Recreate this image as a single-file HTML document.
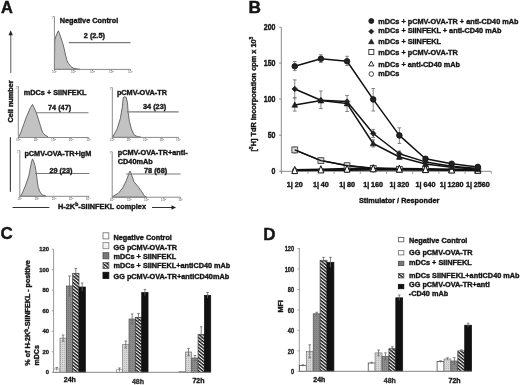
<!DOCTYPE html>
<html><head><meta charset="utf-8"><style>
html,body{margin:0;padding:0;background:#fff;}
svg{display:block;filter:grayscale(1);}
text{font-family:"Liberation Sans", sans-serif;}
</style></head><body>
<svg width="520" height="385" viewBox="0 0 520 385" font-family="Liberation Sans, sans-serif">
<rect width="520" height="385" fill="#fff"/>
<text x="0.9" y="12.9" font-size="16.4" font-weight="bold" text-anchor="start" fill="#161616" stroke="#111" stroke-width="0.45">A</text>
<line x1="10.7" y1="34" x2="10.7" y2="73" stroke="#8a8a8a" stroke-width="1.4"/>
<polygon points="10.7,30.3 8.5,35.3 12.9,35.3" fill="#222"/>
<text x="12.6" y="122.5" font-size="7.3" font-weight="bold" text-anchor="start" fill="#161616" transform="rotate(-90 12.6 122.5)"  stroke="#161616" stroke-width="0.38">Cell number</text>
<line x1="10.4" y1="137.3" x2="10.4" y2="191.8" stroke="#444" stroke-width="1.2"/>
<line x1="12.5" y1="207.5" x2="49.4" y2="207.5" stroke="#333" stroke-width="1.0"/>
<text x="58" y="208.6" font-size="7.3" font-weight="bold" fill="#161616" stroke="#161616" stroke-width="0.38" textLength="88" lengthAdjust="spacingAndGlyphs">H-2K<tspan font-size="5" dy="-2.5">b</tspan><tspan dy="2.5">-SIINFEKL complex</tspan></text>
<line x1="152" y1="207.5" x2="172.5" y2="207.5" stroke="#333" stroke-width="1.0"/>
<polygon points="176,207.5 171.5,205.3 171.5,209.7" fill="#222"/>
<line x1="54.4" y1="69.4" x2="54.4" y2="70.9" stroke="#888" stroke-width="0.8"/>
<text x="54.4" y="73.30000000000001" font-size="3.2" fill="#555" text-anchor="middle" font-family="Liberation Sans, sans-serif">10<tspan font-size="2.2" dy="-1">0</tspan></text>
<line x1="73.4" y1="69.4" x2="73.4" y2="70.9" stroke="#888" stroke-width="0.8"/>
<text x="73.4" y="73.30000000000001" font-size="3.2" fill="#555" text-anchor="middle" font-family="Liberation Sans, sans-serif">10<tspan font-size="2.2" dy="-1">1</tspan></text>
<line x1="92.4" y1="69.4" x2="92.4" y2="70.9" stroke="#888" stroke-width="0.8"/>
<text x="92.4" y="73.30000000000001" font-size="3.2" fill="#555" text-anchor="middle" font-family="Liberation Sans, sans-serif">10<tspan font-size="2.2" dy="-1">2</tspan></text>
<line x1="111.4" y1="69.4" x2="111.4" y2="70.9" stroke="#888" stroke-width="0.8"/>
<text x="111.4" y="73.30000000000001" font-size="3.2" fill="#555" text-anchor="middle" font-family="Liberation Sans, sans-serif">10<tspan font-size="2.2" dy="-1">3</tspan></text>
<line x1="130.4" y1="69.4" x2="130.4" y2="70.9" stroke="#888" stroke-width="0.8"/>
<text x="130.4" y="73.30000000000001" font-size="3.2" fill="#555" text-anchor="middle" font-family="Liberation Sans, sans-serif">10<tspan font-size="2.2" dy="-1">4</tspan></text>
<text x="52.199999999999996" y="19.0" font-size="3" fill="#999" text-anchor="middle" font-family="Liberation Sans, sans-serif">1</text>
<polygon points="54.4,69.4 54.8,40 56,36 57.3,33 58.4,30.8 59.5,33.5 61,38 62.5,42.5 64,48 65.5,55 67,60.5 68.5,63.5 70.5,66 73,68 77,69 80,69.3 80,69.4" fill="#c2c2c2" stroke="#555" stroke-width="0.85" stroke-linejoin="round"/>
<line x1="54.4" y1="16.5" x2="54.4" y2="69.4" stroke="#8a8a8a" stroke-width="1"/>
<line x1="52.9" y1="16.5" x2="54.4" y2="16.5" stroke="#8a8a8a" stroke-width="0.8"/>
<line x1="54.4" y1="69.4" x2="130.5" y2="69.4" stroke="#8a8a8a" stroke-width="1"/>
<line x1="68.8" y1="42.6" x2="130.5" y2="42.6" stroke="#7a7a7a" stroke-width="1.1"/>
<text x="59.8" y="22.8" font-size="7.3" font-weight="bold" text-anchor="start" fill="#161616"  stroke="#161616" stroke-width="0.38">Negative Control</text>
<text x="83.8" y="38.2" font-size="7.3" font-weight="bold" text-anchor="start" fill="#161616"  stroke="#161616" stroke-width="0.38">2 (2.5)</text>
<line x1="18.3" y1="137.5" x2="18.3" y2="139.0" stroke="#888" stroke-width="0.8"/>
<text x="18.3" y="141.4" font-size="3.2" fill="#555" text-anchor="middle" font-family="Liberation Sans, sans-serif">10<tspan font-size="2.2" dy="-1">0</tspan></text>
<line x1="35.9" y1="137.5" x2="35.9" y2="139.0" stroke="#888" stroke-width="0.8"/>
<text x="35.9" y="141.4" font-size="3.2" fill="#555" text-anchor="middle" font-family="Liberation Sans, sans-serif">10<tspan font-size="2.2" dy="-1">1</tspan></text>
<line x1="53.5" y1="137.5" x2="53.5" y2="139.0" stroke="#888" stroke-width="0.8"/>
<text x="53.5" y="141.4" font-size="3.2" fill="#555" text-anchor="middle" font-family="Liberation Sans, sans-serif">10<tspan font-size="2.2" dy="-1">2</tspan></text>
<line x1="71.1" y1="137.5" x2="71.1" y2="139.0" stroke="#888" stroke-width="0.8"/>
<text x="71.1" y="141.4" font-size="3.2" fill="#555" text-anchor="middle" font-family="Liberation Sans, sans-serif">10<tspan font-size="2.2" dy="-1">3</tspan></text>
<line x1="88.7" y1="137.5" x2="88.7" y2="139.0" stroke="#888" stroke-width="0.8"/>
<text x="88.7" y="141.4" font-size="3.2" fill="#555" text-anchor="middle" font-family="Liberation Sans, sans-serif">10<tspan font-size="2.2" dy="-1">4</tspan></text>
<text x="16.1" y="89.0" font-size="3" fill="#999" text-anchor="middle" font-family="Liberation Sans, sans-serif">1</text>
<polygon points="18.3,137.5 19,136.5 21,132 23.5,125 26,118 28.5,112 30.5,107.5 32.5,104.4 34,107.5 36,112 38,118 40,124.5 41.7,130 43,133 45,135 48,136.8 48,137.5" fill="#c2c2c2" stroke="#555" stroke-width="0.85" stroke-linejoin="round"/>
<line x1="18.3" y1="86.5" x2="18.3" y2="137.5" stroke="#8a8a8a" stroke-width="1"/>
<line x1="16.8" y1="86.5" x2="18.3" y2="86.5" stroke="#8a8a8a" stroke-width="0.8"/>
<line x1="18.3" y1="137.5" x2="88.5" y2="137.5" stroke="#8a8a8a" stroke-width="1"/>
<line x1="36" y1="112.8" x2="88.5" y2="112.8" stroke="#7a7a7a" stroke-width="1.1"/>
<text x="23.8" y="94.8" font-size="7.3" font-weight="bold" text-anchor="start" fill="#161616"  stroke="#161616" stroke-width="0.38">mDCs + SIINFEKL</text>
<text x="48" y="110.2" font-size="7.3" font-weight="bold" text-anchor="start" fill="#161616"  stroke="#161616" stroke-width="0.38">74 (47)</text>
<line x1="19.8" y1="196.3" x2="19.8" y2="197.8" stroke="#888" stroke-width="0.8"/>
<text x="19.8" y="200.20000000000002" font-size="3.2" fill="#555" text-anchor="middle" font-family="Liberation Sans, sans-serif">10<tspan font-size="2.2" dy="-1">0</tspan></text>
<line x1="36.9" y1="196.3" x2="36.9" y2="197.8" stroke="#888" stroke-width="0.8"/>
<text x="36.9" y="200.20000000000002" font-size="3.2" fill="#555" text-anchor="middle" font-family="Liberation Sans, sans-serif">10<tspan font-size="2.2" dy="-1">1</tspan></text>
<line x1="54" y1="196.3" x2="54" y2="197.8" stroke="#888" stroke-width="0.8"/>
<text x="54" y="200.20000000000002" font-size="3.2" fill="#555" text-anchor="middle" font-family="Liberation Sans, sans-serif">10<tspan font-size="2.2" dy="-1">2</tspan></text>
<line x1="71.1" y1="196.3" x2="71.1" y2="197.8" stroke="#888" stroke-width="0.8"/>
<text x="71.1" y="200.20000000000002" font-size="3.2" fill="#555" text-anchor="middle" font-family="Liberation Sans, sans-serif">10<tspan font-size="2.2" dy="-1">3</tspan></text>
<line x1="88.2" y1="196.3" x2="88.2" y2="197.8" stroke="#888" stroke-width="0.8"/>
<text x="88.2" y="200.20000000000002" font-size="3.2" fill="#555" text-anchor="middle" font-family="Liberation Sans, sans-serif">10<tspan font-size="2.2" dy="-1">4</tspan></text>
<text x="17.6" y="153.1" font-size="3" fill="#999" text-anchor="middle" font-family="Liberation Sans, sans-serif">1</text>
<polygon points="19.8,196.3 21.2,195.6 23,191.5 24.5,188 26,184 27.5,180 29,175 30.3,168 31.5,162 32.5,158.9 33.5,161 35,165.7 36,171 36.8,177 37.5,183 38.3,187.5 40,192 42.4,195 46,196 46,196.3" fill="#c2c2c2" stroke="#555" stroke-width="0.85" stroke-linejoin="round"/>
<line x1="19.8" y1="150.6" x2="19.8" y2="196.3" stroke="#8a8a8a" stroke-width="1"/>
<line x1="18.3" y1="150.6" x2="19.8" y2="150.6" stroke="#8a8a8a" stroke-width="0.8"/>
<line x1="19.8" y1="196.3" x2="89.4" y2="196.3" stroke="#8a8a8a" stroke-width="1"/>
<line x1="35" y1="173.5" x2="89.4" y2="173.5" stroke="#7a7a7a" stroke-width="1.1"/>
<text x="24.4" y="156.3" font-size="7.3" font-weight="bold" text-anchor="start" fill="#161616"  stroke="#161616" stroke-width="0.38">pCMV-OVA-TR+IgM</text>
<text x="49.4" y="172.8" font-size="7.3" font-weight="bold" text-anchor="start" fill="#161616"  stroke="#161616" stroke-width="0.38">29 (23)</text>
<line x1="112.3" y1="137.4" x2="112.3" y2="138.9" stroke="#888" stroke-width="0.8"/>
<text x="112.3" y="141.3" font-size="3.2" fill="#555" text-anchor="middle" font-family="Liberation Sans, sans-serif">10<tspan font-size="2.2" dy="-1">0</tspan></text>
<line x1="128.8" y1="137.4" x2="128.8" y2="138.9" stroke="#888" stroke-width="0.8"/>
<text x="128.8" y="141.3" font-size="3.2" fill="#555" text-anchor="middle" font-family="Liberation Sans, sans-serif">10<tspan font-size="2.2" dy="-1">1</tspan></text>
<line x1="145.3" y1="137.4" x2="145.3" y2="138.9" stroke="#888" stroke-width="0.8"/>
<text x="145.3" y="141.3" font-size="3.2" fill="#555" text-anchor="middle" font-family="Liberation Sans, sans-serif">10<tspan font-size="2.2" dy="-1">2</tspan></text>
<line x1="161.8" y1="137.4" x2="161.8" y2="138.9" stroke="#888" stroke-width="0.8"/>
<text x="161.8" y="141.3" font-size="3.2" fill="#555" text-anchor="middle" font-family="Liberation Sans, sans-serif">10<tspan font-size="2.2" dy="-1">3</tspan></text>
<line x1="178.3" y1="137.4" x2="178.3" y2="138.9" stroke="#888" stroke-width="0.8"/>
<text x="178.3" y="141.3" font-size="3.2" fill="#555" text-anchor="middle" font-family="Liberation Sans, sans-serif">10<tspan font-size="2.2" dy="-1">4</tspan></text>
<text x="110.1" y="90.1" font-size="3" fill="#999" text-anchor="middle" font-family="Liberation Sans, sans-serif">1</text>
<polygon points="112.3,137.4 113.2,136.1 117.1,129 120.3,118.6 122.3,106.9 123.3,97.3 124.7,96.8 126.2,97.3 127.5,103 128.1,112 129.4,121.2 131.4,129 134,134.8 137.2,136.5 141,137.2 141,137.4" fill="#c2c2c2" stroke="#555" stroke-width="0.85" stroke-linejoin="round"/>
<line x1="112.3" y1="87.6" x2="112.3" y2="137.4" stroke="#8a8a8a" stroke-width="1"/>
<line x1="110.8" y1="87.6" x2="112.3" y2="87.6" stroke="#8a8a8a" stroke-width="0.8"/>
<line x1="112.3" y1="137.4" x2="178.6" y2="137.4" stroke="#8a8a8a" stroke-width="1"/>
<line x1="126.9" y1="111.9" x2="178.6" y2="111.9" stroke="#7a7a7a" stroke-width="1.1"/>
<text x="116.9" y="95.3" font-size="7.3" font-weight="bold" text-anchor="start" fill="#161616"  stroke="#161616" stroke-width="0.38">pCMV-OVA-TR</text>
<text x="143" y="108.6" font-size="7.3" font-weight="bold" text-anchor="start" fill="#161616"  stroke="#161616" stroke-width="0.38">34 (23)</text>
<line x1="112.2" y1="197.2" x2="112.2" y2="198.7" stroke="#888" stroke-width="0.8"/>
<text x="112.2" y="201.1" font-size="3.2" fill="#555" text-anchor="middle" font-family="Liberation Sans, sans-serif">10<tspan font-size="2.2" dy="-1">0</tspan></text>
<line x1="129.3" y1="197.2" x2="129.3" y2="198.7" stroke="#888" stroke-width="0.8"/>
<text x="129.3" y="201.1" font-size="3.2" fill="#555" text-anchor="middle" font-family="Liberation Sans, sans-serif">10<tspan font-size="2.2" dy="-1">1</tspan></text>
<line x1="146.4" y1="197.2" x2="146.4" y2="198.7" stroke="#888" stroke-width="0.8"/>
<text x="146.4" y="201.1" font-size="3.2" fill="#555" text-anchor="middle" font-family="Liberation Sans, sans-serif">10<tspan font-size="2.2" dy="-1">2</tspan></text>
<line x1="163.5" y1="197.2" x2="163.5" y2="198.7" stroke="#888" stroke-width="0.8"/>
<text x="163.5" y="201.1" font-size="3.2" fill="#555" text-anchor="middle" font-family="Liberation Sans, sans-serif">10<tspan font-size="2.2" dy="-1">3</tspan></text>
<line x1="180.6" y1="197.2" x2="180.6" y2="198.7" stroke="#888" stroke-width="0.8"/>
<text x="180.6" y="201.1" font-size="3.2" fill="#555" text-anchor="middle" font-family="Liberation Sans, sans-serif">10<tspan font-size="2.2" dy="-1">4</tspan></text>
<text x="110.0" y="154.2" font-size="3" fill="#999" text-anchor="middle" font-family="Liberation Sans, sans-serif">1</text>
<polygon points="112.2,197.2 112.7,196.4 118.4,193.3 122.6,188 126.2,180.8 129.3,172.5 130,171 130.8,172.5 134,181.8 138.1,186.5 141.3,191.2 144.4,195.9 146.5,197 146.5,197.2" fill="#c2c2c2" stroke="#555" stroke-width="0.85" stroke-linejoin="round"/>
<line x1="112.2" y1="151.7" x2="112.2" y2="197.2" stroke="#8a8a8a" stroke-width="1"/>
<line x1="110.7" y1="151.7" x2="112.2" y2="151.7" stroke="#8a8a8a" stroke-width="0.8"/>
<line x1="112.2" y1="197.2" x2="180.6" y2="197.2" stroke="#8a8a8a" stroke-width="1"/>
<line x1="126" y1="174" x2="180.6" y2="174" stroke="#7a7a7a" stroke-width="1.1"/>
<text x="117.8" y="155.4" font-size="7.3" font-weight="bold" text-anchor="start" fill="#161616"  stroke="#161616" stroke-width="0.38">pCMV-OVA-TR+anti-</text>
<text x="117.8" y="163.8" font-size="7.3" font-weight="bold" text-anchor="start" fill="#161616"  stroke="#161616" stroke-width="0.38">CD40mAb</text>
<text x="144" y="172.9" font-size="7.3" font-weight="bold" text-anchor="start" fill="#161616"  stroke="#161616" stroke-width="0.38">78 (68)</text>
<text x="248.6" y="13.3" font-size="17.2" font-weight="bold" text-anchor="start" fill="#161616" stroke="#111" stroke-width="0.45">B</text>
<line x1="281.3" y1="27.3" x2="281.3" y2="173.5" stroke="#8a8a8a" stroke-width="1"/>
<line x1="279.0" y1="27.3" x2="281.3" y2="27.3" stroke="#8a8a8a" stroke-width="0.9"/>
<text x="275.5" y="30.3" font-size="8.4" font-weight="bold" text-anchor="end" fill="#161616"  textLength="11.790000000000001" lengthAdjust="spacingAndGlyphs" stroke="#161616" stroke-width="0.38">200</text>
<line x1="279.0" y1="63.1" x2="281.3" y2="63.1" stroke="#8a8a8a" stroke-width="0.9"/>
<text x="275.5" y="66.1" font-size="8.4" font-weight="bold" text-anchor="end" fill="#161616"  textLength="11.790000000000001" lengthAdjust="spacingAndGlyphs" stroke="#161616" stroke-width="0.38">150</text>
<line x1="279.0" y1="99.0" x2="281.3" y2="99.0" stroke="#8a8a8a" stroke-width="0.9"/>
<text x="275.5" y="102.0" font-size="8.4" font-weight="bold" text-anchor="end" fill="#161616"  textLength="11.790000000000001" lengthAdjust="spacingAndGlyphs" stroke="#161616" stroke-width="0.38">100</text>
<line x1="279.0" y1="135.2" x2="281.3" y2="135.2" stroke="#8a8a8a" stroke-width="0.9"/>
<text x="275.5" y="138.2" font-size="8.4" font-weight="bold" text-anchor="end" fill="#161616"  textLength="7.86" lengthAdjust="spacingAndGlyphs" stroke="#161616" stroke-width="0.38">50</text>
<line x1="279.0" y1="171.3" x2="281.3" y2="171.3" stroke="#8a8a8a" stroke-width="0.9"/>
<text x="275.5" y="174.3" font-size="8.4" font-weight="bold" text-anchor="end" fill="#161616"  textLength="3.93" lengthAdjust="spacingAndGlyphs" stroke="#161616" stroke-width="0.38">0</text>
<line x1="280.3" y1="171.3" x2="491.3" y2="171.3" stroke="#8a8a8a" stroke-width="1"/>
<line x1="281.7" y1="171.3" x2="281.7" y2="173.8" stroke="#8a8a8a" stroke-width="0.9"/>
<line x1="307.9" y1="171.3" x2="307.9" y2="173.8" stroke="#8a8a8a" stroke-width="0.9"/>
<line x1="334.09999999999997" y1="171.3" x2="334.09999999999997" y2="173.8" stroke="#8a8a8a" stroke-width="0.9"/>
<line x1="360.29999999999995" y1="171.3" x2="360.29999999999995" y2="173.8" stroke="#8a8a8a" stroke-width="0.9"/>
<line x1="386.5" y1="171.3" x2="386.5" y2="173.8" stroke="#8a8a8a" stroke-width="0.9"/>
<line x1="412.7" y1="171.3" x2="412.7" y2="173.8" stroke="#8a8a8a" stroke-width="0.9"/>
<line x1="438.9" y1="171.3" x2="438.9" y2="173.8" stroke="#8a8a8a" stroke-width="0.9"/>
<line x1="465.1" y1="171.3" x2="465.1" y2="173.8" stroke="#8a8a8a" stroke-width="0.9"/>
<line x1="491.29999999999995" y1="171.3" x2="491.29999999999995" y2="173.8" stroke="#8a8a8a" stroke-width="0.9"/>
<text x="294.75" y="186.8" font-size="7.2" font-weight="bold" text-anchor="middle" fill="#161616" stroke="#161616" stroke-width="0.38">1|<tspan dx="1.8">20</tspan></text>
<text x="320.9" y="186.8" font-size="7.2" font-weight="bold" text-anchor="middle" fill="#161616" stroke="#161616" stroke-width="0.38">1|<tspan dx="1.8">40</tspan></text>
<text x="347.05" y="186.8" font-size="7.2" font-weight="bold" text-anchor="middle" fill="#161616" stroke="#161616" stroke-width="0.38">1|<tspan dx="1.8">80</tspan></text>
<text x="373.2" y="186.8" font-size="7.2" font-weight="bold" text-anchor="middle" fill="#161616" stroke="#161616" stroke-width="0.38">1|<tspan dx="1.8">160</tspan></text>
<text x="399.35" y="186.8" font-size="7.2" font-weight="bold" text-anchor="middle" fill="#161616" stroke="#161616" stroke-width="0.38">1|<tspan dx="1.8">320</tspan></text>
<text x="425.5" y="186.8" font-size="7.2" font-weight="bold" text-anchor="middle" fill="#161616" stroke="#161616" stroke-width="0.38">1|<tspan dx="1.8">640</tspan></text>
<text x="451.65" y="186.8" font-size="7.2" font-weight="bold" text-anchor="middle" fill="#161616" stroke="#161616" stroke-width="0.38">1|<tspan dx="1.8">1280</tspan></text>
<text x="477.79999999999995" y="186.8" font-size="7.2" font-weight="bold" text-anchor="middle" fill="#161616" stroke="#161616" stroke-width="0.38">1|<tspan dx="1.8">2560</tspan></text>
<text x="359" y="202.9" font-size="7.3" font-weight="bold" text-anchor="start" fill="#161616"  stroke="#161616" stroke-width="0.38">Stimulator / Responder</text>
<text transform="rotate(-90 255.6 151.6)" x="255.6" y="151.6" font-size="7.35" font-weight="bold" fill="#161616" stroke="#161616" stroke-width="0.38" textLength="115" lengthAdjust="spacingAndGlyphs">[<tspan font-size="5" dy="-2.5">3</tspan><tspan dy="2.5">H] TdR incorporation cpm x 10</tspan><tspan font-size="5" dy="-2.5">3</tspan></text>
<line x1="294.75" y1="61.5" x2="294.75" y2="70.6" stroke="#777" stroke-width="0.9"/>
<line x1="292.95" y1="61.5" x2="296.55" y2="61.5" stroke="#777" stroke-width="0.9"/>
<line x1="292.95" y1="70.6" x2="296.55" y2="70.6" stroke="#777" stroke-width="0.9"/>
<line x1="320.9" y1="54.75" x2="320.9" y2="62.5" stroke="#777" stroke-width="0.9"/>
<line x1="319.09999999999997" y1="54.75" x2="322.7" y2="54.75" stroke="#777" stroke-width="0.9"/>
<line x1="319.09999999999997" y1="62.5" x2="322.7" y2="62.5" stroke="#777" stroke-width="0.9"/>
<line x1="347.05" y1="56.3" x2="347.05" y2="65.6" stroke="#777" stroke-width="0.9"/>
<line x1="345.25" y1="56.3" x2="348.85" y2="56.3" stroke="#777" stroke-width="0.9"/>
<line x1="345.25" y1="65.6" x2="348.85" y2="65.6" stroke="#777" stroke-width="0.9"/>
<line x1="373.2" y1="88.5" x2="373.2" y2="111" stroke="#777" stroke-width="0.9"/>
<line x1="371.4" y1="88.5" x2="375.0" y2="88.5" stroke="#777" stroke-width="0.9"/>
<line x1="371.4" y1="111" x2="375.0" y2="111" stroke="#777" stroke-width="0.9"/>
<line x1="399.35" y1="127.8" x2="399.35" y2="143.5" stroke="#777" stroke-width="0.9"/>
<line x1="397.55" y1="127.8" x2="401.15000000000003" y2="127.8" stroke="#777" stroke-width="0.9"/>
<line x1="397.55" y1="143.5" x2="401.15000000000003" y2="143.5" stroke="#777" stroke-width="0.9"/>
<line x1="425.5" y1="156.5" x2="425.5" y2="161" stroke="#777" stroke-width="0.9"/>
<line x1="423.7" y1="156.5" x2="427.3" y2="156.5" stroke="#777" stroke-width="0.9"/>
<line x1="423.7" y1="161" x2="427.3" y2="161" stroke="#777" stroke-width="0.9"/>
<line x1="451.65" y1="162" x2="451.65" y2="165.5" stroke="#777" stroke-width="0.9"/>
<line x1="449.84999999999997" y1="162" x2="453.45" y2="162" stroke="#777" stroke-width="0.9"/>
<line x1="449.84999999999997" y1="165.5" x2="453.45" y2="165.5" stroke="#777" stroke-width="0.9"/>
<line x1="477.79999999999995" y1="165.5" x2="477.79999999999995" y2="168.5" stroke="#777" stroke-width="0.9"/>
<line x1="475.99999999999994" y1="165.5" x2="479.59999999999997" y2="165.5" stroke="#777" stroke-width="0.9"/>
<line x1="475.99999999999994" y1="168.5" x2="479.59999999999997" y2="168.5" stroke="#777" stroke-width="0.9"/>
<line x1="294.75" y1="79.9" x2="294.75" y2="98" stroke="#777" stroke-width="0.9"/>
<line x1="292.95" y1="79.9" x2="296.55" y2="79.9" stroke="#777" stroke-width="0.9"/>
<line x1="292.95" y1="98" x2="296.55" y2="98" stroke="#777" stroke-width="0.9"/>
<line x1="320.9" y1="91" x2="320.9" y2="108.6" stroke="#777" stroke-width="0.9"/>
<line x1="319.09999999999997" y1="91" x2="322.7" y2="91" stroke="#777" stroke-width="0.9"/>
<line x1="319.09999999999997" y1="108.6" x2="322.7" y2="108.6" stroke="#777" stroke-width="0.9"/>
<line x1="347.05" y1="95.5" x2="347.05" y2="111.5" stroke="#777" stroke-width="0.9"/>
<line x1="345.25" y1="95.5" x2="348.85" y2="95.5" stroke="#777" stroke-width="0.9"/>
<line x1="345.25" y1="111.5" x2="348.85" y2="111.5" stroke="#777" stroke-width="0.9"/>
<line x1="373.2" y1="129.4" x2="373.2" y2="137.5" stroke="#777" stroke-width="0.9"/>
<line x1="371.4" y1="129.4" x2="375.0" y2="129.4" stroke="#777" stroke-width="0.9"/>
<line x1="371.4" y1="137.5" x2="375.0" y2="137.5" stroke="#777" stroke-width="0.9"/>
<line x1="399.35" y1="151" x2="399.35" y2="156.5" stroke="#777" stroke-width="0.9"/>
<line x1="397.55" y1="151" x2="401.15000000000003" y2="151" stroke="#777" stroke-width="0.9"/>
<line x1="397.55" y1="156.5" x2="401.15000000000003" y2="156.5" stroke="#777" stroke-width="0.9"/>
<line x1="294.75" y1="97.75" x2="294.75" y2="111.1" stroke="#777" stroke-width="0.9"/>
<line x1="292.95" y1="97.75" x2="296.55" y2="97.75" stroke="#777" stroke-width="0.9"/>
<line x1="292.95" y1="111.1" x2="296.55" y2="111.1" stroke="#777" stroke-width="0.9"/>
<line x1="373.2" y1="139.8" x2="373.2" y2="147" stroke="#777" stroke-width="0.9"/>
<line x1="371.4" y1="139.8" x2="375.0" y2="139.8" stroke="#777" stroke-width="0.9"/>
<line x1="371.4" y1="147" x2="375.0" y2="147" stroke="#777" stroke-width="0.9"/>
<line x1="399.35" y1="154.5" x2="399.35" y2="159.5" stroke="#777" stroke-width="0.9"/>
<line x1="397.55" y1="154.5" x2="401.15000000000003" y2="154.5" stroke="#777" stroke-width="0.9"/>
<line x1="397.55" y1="159.5" x2="401.15000000000003" y2="159.5" stroke="#777" stroke-width="0.9"/>
<line x1="294.75" y1="147" x2="294.75" y2="153" stroke="#777" stroke-width="0.9"/>
<line x1="292.95" y1="147" x2="296.55" y2="147" stroke="#777" stroke-width="0.9"/>
<line x1="292.95" y1="153" x2="296.55" y2="153" stroke="#777" stroke-width="0.9"/>
<line x1="320.9" y1="158" x2="320.9" y2="163" stroke="#777" stroke-width="0.9"/>
<line x1="319.09999999999997" y1="158" x2="322.7" y2="158" stroke="#777" stroke-width="0.9"/>
<line x1="319.09999999999997" y1="163" x2="322.7" y2="163" stroke="#777" stroke-width="0.9"/>
<line x1="347.05" y1="163.5" x2="347.05" y2="167.5" stroke="#777" stroke-width="0.9"/>
<line x1="345.25" y1="163.5" x2="348.85" y2="163.5" stroke="#777" stroke-width="0.9"/>
<line x1="345.25" y1="167.5" x2="348.85" y2="167.5" stroke="#777" stroke-width="0.9"/>
<polyline points="294.75,170.3 320.9,170.2 347.05,170.0 373.2,169.8 399.35,169.8 425.5,169.8 451.65,170.0 477.79999999999995,170.2" fill="none" stroke="#111" stroke-width="1.8" stroke-linejoin="round"/>
<polyline points="294.75,170.0 320.9,169.3 347.05,168.6 373.2,168.2 399.35,168.6 425.5,169.0 451.65,169.4 477.79999999999995,169.7" fill="none" stroke="#111" stroke-width="1.8" stroke-linejoin="round"/>
<polyline points="294.75,149.9 320.9,160.6 347.05,165.6 373.2,168.3 399.35,169.3 425.5,169.5 451.65,169.8 477.79999999999995,170" fill="none" stroke="#111" stroke-width="1.5" stroke-linejoin="round"/>
<polyline points="294.75,104.9 320.9,100.6 347.05,103.6 373.2,143.5 399.35,157 425.5,164 451.65,167.2 477.79999999999995,169.2" fill="none" stroke="#111" stroke-width="1.5" stroke-linejoin="round"/>
<polyline points="294.75,89 320.9,100.3 347.05,101.6 373.2,133.5 399.35,153.75 425.5,161.9 451.65,166.3 477.79999999999995,168.5" fill="none" stroke="#111" stroke-width="1.5" stroke-linejoin="round"/>
<polyline points="294.75,66.25 320.9,58.75 347.05,61.25 373.2,99.4 399.35,135.4 425.5,158.75 451.65,163.75 477.79999999999995,166.9" fill="none" stroke="#111" stroke-width="1.5" stroke-linejoin="round"/>
<circle cx="294.75" cy="170.3" r="2.3" fill="#fff" stroke="#222" stroke-width="0.8"/>
<circle cx="320.9" cy="170.2" r="2.3" fill="#fff" stroke="#222" stroke-width="0.8"/>
<circle cx="347.05" cy="170.0" r="2.3" fill="#fff" stroke="#222" stroke-width="0.8"/>
<circle cx="373.2" cy="169.8" r="2.3" fill="#fff" stroke="#222" stroke-width="0.8"/>
<circle cx="399.35" cy="169.8" r="2.3" fill="#fff" stroke="#222" stroke-width="0.8"/>
<circle cx="425.5" cy="169.8" r="2.3" fill="#fff" stroke="#222" stroke-width="0.8"/>
<circle cx="451.65" cy="170.0" r="2.3" fill="#fff" stroke="#222" stroke-width="0.8"/>
<circle cx="477.79999999999995" cy="170.2" r="2.3" fill="#fff" stroke="#222" stroke-width="0.8"/>
<rect x="291.85" y="147.0" width="5.8" height="5.8" fill="#d8d8d8" stroke="#444" stroke-width="0.9"/>
<rect x="318.0" y="157.7" width="5.8" height="5.8" fill="#d8d8d8" stroke="#444" stroke-width="0.9"/>
<rect x="344.15000000000003" y="162.7" width="5.8" height="5.8" fill="#d8d8d8" stroke="#444" stroke-width="0.9"/>
<rect x="370.3" y="165.4" width="5.8" height="5.8" fill="#d8d8d8" stroke="#444" stroke-width="0.9"/>
<rect x="396.45000000000005" y="166.4" width="5.8" height="5.8" fill="#d8d8d8" stroke="#444" stroke-width="0.9"/>
<rect x="422.6" y="166.6" width="5.8" height="5.8" fill="#d8d8d8" stroke="#444" stroke-width="0.9"/>
<rect x="448.75" y="166.9" width="5.8" height="5.8" fill="#d8d8d8" stroke="#444" stroke-width="0.9"/>
<rect x="474.9" y="167.1" width="5.8" height="5.8" fill="#d8d8d8" stroke="#444" stroke-width="0.9"/>
<polyline points="294.75,149.9 320.9,160.6 347.05,165.6 373.2,168.3 399.35,169.3 425.5,169.5 451.65,169.8 477.79999999999995,170" fill="none" stroke="#111" stroke-width="1.35" stroke-linejoin="round"/>
<polygon points="294.75,166.4 297.65,173.6 291.85,173.6" fill="#fff" stroke="#111" stroke-width="1.0" stroke-linejoin="round"/>
<polygon points="320.9,165.70000000000002 323.79999999999995,172.9 318.0,172.9" fill="#fff" stroke="#111" stroke-width="1.0" stroke-linejoin="round"/>
<polygon points="347.05,165.0 349.95,172.2 344.15000000000003,172.2" fill="#fff" stroke="#111" stroke-width="1.0" stroke-linejoin="round"/>
<polygon points="373.2,164.6 376.09999999999997,171.79999999999998 370.3,171.79999999999998" fill="#fff" stroke="#111" stroke-width="1.0" stroke-linejoin="round"/>
<polygon points="399.35,165.0 402.25,172.2 396.45000000000005,172.2" fill="#fff" stroke="#111" stroke-width="1.0" stroke-linejoin="round"/>
<polygon points="425.5,165.4 428.4,172.6 422.6,172.6" fill="#fff" stroke="#111" stroke-width="1.0" stroke-linejoin="round"/>
<polygon points="451.65,165.8 454.54999999999995,173.0 448.75,173.0" fill="#fff" stroke="#111" stroke-width="1.0" stroke-linejoin="round"/>
<polygon points="477.79999999999995,166.1 480.69999999999993,173.29999999999998 474.9,173.29999999999998" fill="#fff" stroke="#111" stroke-width="1.0" stroke-linejoin="round"/>
<polygon points="294.75,102.0 297.65,107.22 291.85,107.22" fill="#222" stroke="#111" stroke-width="0.6" stroke-linejoin="round"/>
<polygon points="320.9,97.69999999999999 323.79999999999995,102.91999999999999 318.0,102.91999999999999" fill="#222" stroke="#111" stroke-width="0.6" stroke-linejoin="round"/>
<polygon points="347.05,100.69999999999999 349.95,105.91999999999999 344.15000000000003,105.91999999999999" fill="#222" stroke="#111" stroke-width="0.6" stroke-linejoin="round"/>
<polygon points="373.2,140.6 376.09999999999997,145.82 370.3,145.82" fill="#222" stroke="#111" stroke-width="0.6" stroke-linejoin="round"/>
<polygon points="399.35,154.1 402.25,159.32 396.45000000000005,159.32" fill="#222" stroke="#111" stroke-width="0.6" stroke-linejoin="round"/>
<polygon points="425.5,161.1 428.4,166.32 422.6,166.32" fill="#222" stroke="#111" stroke-width="0.6" stroke-linejoin="round"/>
<polygon points="451.65,164.29999999999998 454.54999999999995,169.51999999999998 448.75,169.51999999999998" fill="#222" stroke="#111" stroke-width="0.6" stroke-linejoin="round"/>
<polygon points="477.79999999999995,166.29999999999998 480.69999999999993,171.51999999999998 474.9,171.51999999999998" fill="#222" stroke="#111" stroke-width="0.6" stroke-linejoin="round"/>
<polygon points="294.75,86.2 297.55,89 294.75,91.8 291.95,89" fill="#222" stroke="#111" stroke-width="0.6"/>
<polygon points="320.9,97.5 323.7,100.3 320.9,103.1 318.09999999999997,100.3" fill="#222" stroke="#111" stroke-width="0.6"/>
<polygon points="347.05,98.8 349.85,101.6 347.05,104.39999999999999 344.25,101.6" fill="#222" stroke="#111" stroke-width="0.6"/>
<polygon points="373.2,130.7 376.0,133.5 373.2,136.3 370.4,133.5" fill="#222" stroke="#111" stroke-width="0.6"/>
<polygon points="399.35,150.95 402.15000000000003,153.75 399.35,156.55 396.55,153.75" fill="#222" stroke="#111" stroke-width="0.6"/>
<polygon points="425.5,159.1 428.3,161.9 425.5,164.70000000000002 422.7,161.9" fill="#222" stroke="#111" stroke-width="0.6"/>
<polygon points="451.65,163.5 454.45,166.3 451.65,169.10000000000002 448.84999999999997,166.3" fill="#222" stroke="#111" stroke-width="0.6"/>
<polygon points="477.79999999999995,165.7 480.59999999999997,168.5 477.79999999999995,171.3 474.99999999999994,168.5" fill="#222" stroke="#111" stroke-width="0.6"/>
<circle cx="294.75" cy="66.25" r="2.8" fill="#222" stroke="#111" stroke-width="0.8"/>
<circle cx="320.9" cy="58.75" r="2.8" fill="#222" stroke="#111" stroke-width="0.8"/>
<circle cx="347.05" cy="61.25" r="2.8" fill="#222" stroke="#111" stroke-width="0.8"/>
<circle cx="373.2" cy="99.4" r="2.8" fill="#222" stroke="#111" stroke-width="0.8"/>
<circle cx="399.35" cy="135.4" r="2.8" fill="#222" stroke="#111" stroke-width="0.8"/>
<circle cx="425.5" cy="158.75" r="2.8" fill="#222" stroke="#111" stroke-width="0.8"/>
<circle cx="451.65" cy="163.75" r="2.8" fill="#222" stroke="#111" stroke-width="0.8"/>
<circle cx="477.79999999999995" cy="166.9" r="2.8" fill="#222" stroke="#111" stroke-width="0.8"/>
<circle cx="371.3" cy="21" r="2.5" fill="#222" stroke="#111" stroke-width="0.8"/>
<polygon points="371.3,28.9 373.90000000000003,31.5 371.3,34.1 368.7,31.5" fill="#222" stroke="#111" stroke-width="0.6"/>
<polygon points="371.3,38.9 374.0,43.760000000000005 368.6,43.760000000000005" fill="#222" stroke="#111" stroke-width="0.6" stroke-linejoin="round"/>
<rect x="368.8" y="49.5" width="5.0" height="5.0" fill="#fff" stroke="#444" stroke-width="1"/>
<polygon points="371.3,61.199999999999996 373.90000000000003,65.88 368.7,65.88" fill="#fff" stroke="#111" stroke-width="0.9" stroke-linejoin="round"/>
<circle cx="371.3" cy="74" r="2.3" fill="#fff" stroke="#222" stroke-width="0.8"/>
<text x="378.3" y="23.6" font-size="7.3" font-weight="bold" text-anchor="start" fill="#161616"  stroke="#161616" stroke-width="0.38">mDCs + pCMV-OVA-TR + anti-CD40 mAb</text>
<text x="378.3" y="33.2" font-size="7.3" font-weight="bold" text-anchor="start" fill="#161616"  stroke="#161616" stroke-width="0.38">mDCs + SIINFEKL + anti-CD40 mAb</text>
<text x="378.3" y="43.6" font-size="7.3" font-weight="bold" text-anchor="start" fill="#161616"  stroke="#161616" stroke-width="0.38">mDCs + SIINFEKL</text>
<text x="378.3" y="54.6" font-size="7.3" font-weight="bold" text-anchor="start" fill="#161616"  stroke="#161616" stroke-width="0.38">mDCs + pCMV-OVA-TR</text>
<text x="378.3" y="66.5" font-size="7.3" font-weight="bold" text-anchor="start" fill="#161616"  stroke="#161616" stroke-width="0.38">mDCs + anti-CD40 mAb</text>
<text x="378.3" y="75.7" font-size="7.3" font-weight="bold" text-anchor="start" fill="#161616"  stroke="#161616" stroke-width="0.38">mDCs</text>
<defs>
<pattern id="hatch" patternUnits="userSpaceOnUse" width="4" height="2.58" patternTransform="rotate(39)">
<rect width="4" height="2.58" fill="#fff"/><rect width="4" height="1.42" fill="#111"/></pattern>
<pattern id="dots" patternUnits="userSpaceOnUse" width="2" height="2">
<rect width="2" height="2" fill="#d6d6d6"/><rect width="1" height="1" fill="#b8b8b8"/></pattern>
<pattern id="gdots" patternUnits="userSpaceOnUse" width="2" height="2">
<rect width="2" height="2" fill="#8c8c8c"/><rect width="1" height="1" fill="#777"/></pattern>
</defs>
<text x="0.6" y="239.1" font-size="17" font-weight="bold" text-anchor="start" fill="#161616" stroke="#111" stroke-width="0.35">C</text>
<line x1="53.6" y1="249.2" x2="53.6" y2="372.3" stroke="#999" stroke-width="1"/>
<line x1="51.800000000000004" y1="372.3" x2="53.6" y2="372.3" stroke="#999" stroke-width="0.9"/>
<text x="49.0" y="374.46000000000004" font-size="6.0" font-weight="bold" text-anchor="end" fill="#222" stroke="#222" stroke-width="0.35" textLength="3.25" lengthAdjust="spacingAndGlyphs">0</text>
<line x1="51.800000000000004" y1="351.78000000000003" x2="53.6" y2="351.78000000000003" stroke="#999" stroke-width="0.9"/>
<text x="49.0" y="353.94000000000005" font-size="6.0" font-weight="bold" text-anchor="end" fill="#222" stroke="#222" stroke-width="0.35" textLength="6.5" lengthAdjust="spacingAndGlyphs">20</text>
<line x1="51.800000000000004" y1="331.26" x2="53.6" y2="331.26" stroke="#999" stroke-width="0.9"/>
<text x="49.0" y="333.42" font-size="6.0" font-weight="bold" text-anchor="end" fill="#222" stroke="#222" stroke-width="0.35" textLength="6.5" lengthAdjust="spacingAndGlyphs">40</text>
<line x1="51.800000000000004" y1="310.74" x2="53.6" y2="310.74" stroke="#999" stroke-width="0.9"/>
<text x="49.0" y="312.90000000000003" font-size="6.0" font-weight="bold" text-anchor="end" fill="#222" stroke="#222" stroke-width="0.35" textLength="6.5" lengthAdjust="spacingAndGlyphs">60</text>
<line x1="51.800000000000004" y1="290.22" x2="53.6" y2="290.22" stroke="#999" stroke-width="0.9"/>
<text x="49.0" y="292.38000000000005" font-size="6.0" font-weight="bold" text-anchor="end" fill="#222" stroke="#222" stroke-width="0.35" textLength="6.5" lengthAdjust="spacingAndGlyphs">80</text>
<line x1="51.800000000000004" y1="269.7" x2="53.6" y2="269.7" stroke="#999" stroke-width="0.9"/>
<text x="49.0" y="271.86" font-size="6.0" font-weight="bold" text-anchor="end" fill="#222" stroke="#222" stroke-width="0.35" textLength="9.75" lengthAdjust="spacingAndGlyphs">100</text>
<line x1="51.800000000000004" y1="249.18" x2="53.6" y2="249.18" stroke="#999" stroke-width="0.9"/>
<text x="49.0" y="251.34" font-size="6.0" font-weight="bold" text-anchor="end" fill="#222" stroke="#222" stroke-width="0.35" textLength="9.75" lengthAdjust="spacingAndGlyphs">120</text>
<rect x="53.60" y="369" width="6.35" height="3.30" fill="#fff" stroke="#888" stroke-width="0.7"/>
<line x1="56.775" y1="367.5" x2="56.775" y2="370.5" stroke="#666" stroke-width="0.8"/>
<line x1="55.475" y1="367.5" x2="58.074999999999996" y2="367.5" stroke="#666" stroke-width="0.8"/>
<rect x="59.95" y="338.1" width="6.35" height="34.20" fill="url(#dots)" stroke="#777" stroke-width="0.7"/>
<line x1="63.125" y1="335" x2="63.125" y2="341.20000000000005" stroke="#666" stroke-width="0.8"/>
<line x1="61.825" y1="335" x2="64.425" y2="335" stroke="#666" stroke-width="0.8"/>
<line x1="61.825" y1="341.20000000000005" x2="64.425" y2="341.20000000000005" stroke="#666" stroke-width="0.8"/>
<rect x="66.30" y="286" width="6.35" height="86.30" fill="url(#gdots)" stroke="#555" stroke-width="0.7"/>
<line x1="69.475" y1="276" x2="69.475" y2="296" stroke="#666" stroke-width="0.8"/>
<line x1="68.175" y1="276" x2="70.77499999999999" y2="276" stroke="#666" stroke-width="0.8"/>
<line x1="68.175" y1="296" x2="70.77499999999999" y2="296" stroke="#666" stroke-width="0.8"/>
<rect x="72.65" y="273.3" width="6.35" height="99.00" fill="url(#hatch)" stroke="#444" stroke-width="0.7"/>
<line x1="75.825" y1="268.5" x2="75.825" y2="278.1" stroke="#666" stroke-width="0.8"/>
<line x1="74.525" y1="268.5" x2="77.125" y2="268.5" stroke="#666" stroke-width="0.8"/>
<rect x="79.00" y="287" width="6.35" height="85.30" fill="#111" stroke="#111" stroke-width="0.7"/>
<line x1="82.175" y1="283" x2="82.175" y2="291" stroke="#666" stroke-width="0.8"/>
<line x1="80.875" y1="283" x2="83.475" y2="283" stroke="#666" stroke-width="0.8"/>
<text x="69.8" y="382.4" font-size="7.6" font-weight="bold" text-anchor="middle" fill="#161616"  textLength="12.1" lengthAdjust="spacingAndGlyphs" stroke="#161616" stroke-width="0.38">24h</text>
<rect x="116.30" y="369.7" width="6.35" height="2.60" fill="#fff" stroke="#888" stroke-width="0.7"/>
<line x1="119.475" y1="368" x2="119.475" y2="371.4" stroke="#666" stroke-width="0.8"/>
<line x1="118.175" y1="368" x2="120.77499999999999" y2="368" stroke="#666" stroke-width="0.8"/>
<rect x="122.65" y="344.5" width="6.35" height="27.80" fill="url(#dots)" stroke="#777" stroke-width="0.7"/>
<line x1="125.82499999999999" y1="341" x2="125.82499999999999" y2="348.0" stroke="#666" stroke-width="0.8"/>
<line x1="124.52499999999999" y1="341" x2="127.12499999999999" y2="341" stroke="#666" stroke-width="0.8"/>
<line x1="124.52499999999999" y1="348.0" x2="127.12499999999999" y2="348.0" stroke="#666" stroke-width="0.8"/>
<rect x="129.00" y="319" width="6.35" height="53.30" fill="url(#gdots)" stroke="#555" stroke-width="0.7"/>
<line x1="132.175" y1="314" x2="132.175" y2="324" stroke="#666" stroke-width="0.8"/>
<line x1="130.875" y1="314" x2="133.47500000000002" y2="314" stroke="#666" stroke-width="0.8"/>
<line x1="130.875" y1="324" x2="133.47500000000002" y2="324" stroke="#666" stroke-width="0.8"/>
<rect x="135.35" y="317.3" width="6.35" height="55.00" fill="url(#hatch)" stroke="#444" stroke-width="0.7"/>
<line x1="138.525" y1="313.5" x2="138.525" y2="321.1" stroke="#666" stroke-width="0.8"/>
<line x1="137.225" y1="313.5" x2="139.82500000000002" y2="313.5" stroke="#666" stroke-width="0.8"/>
<rect x="141.70" y="292.5" width="6.35" height="79.80" fill="#111" stroke="#111" stroke-width="0.7"/>
<line x1="144.875" y1="289.4" x2="144.875" y2="295.6" stroke="#666" stroke-width="0.8"/>
<line x1="143.575" y1="289.4" x2="146.175" y2="289.4" stroke="#666" stroke-width="0.8"/>
<text x="138.0" y="383.7" font-size="7.6" font-weight="bold" text-anchor="middle" fill="#333"  textLength="12.1" lengthAdjust="spacingAndGlyphs" stroke="#333" stroke-width="0.38">48h</text>
<rect x="179.00" y="371.6" width="6.35" height="0.70" fill="#fff" stroke="#888" stroke-width="0.7"/>
<rect x="185.35" y="352" width="6.35" height="20.30" fill="url(#dots)" stroke="#777" stroke-width="0.7"/>
<line x1="188.525" y1="348.4" x2="188.525" y2="355.6" stroke="#666" stroke-width="0.8"/>
<line x1="187.225" y1="348.4" x2="189.82500000000002" y2="348.4" stroke="#666" stroke-width="0.8"/>
<line x1="187.225" y1="355.6" x2="189.82500000000002" y2="355.6" stroke="#666" stroke-width="0.8"/>
<rect x="191.70" y="358" width="6.35" height="14.30" fill="url(#gdots)" stroke="#555" stroke-width="0.7"/>
<line x1="194.875" y1="355.5" x2="194.875" y2="360.5" stroke="#666" stroke-width="0.8"/>
<line x1="193.575" y1="355.5" x2="196.175" y2="355.5" stroke="#666" stroke-width="0.8"/>
<line x1="193.575" y1="360.5" x2="196.175" y2="360.5" stroke="#666" stroke-width="0.8"/>
<rect x="198.05" y="334.4" width="6.35" height="37.90" fill="url(#hatch)" stroke="#444" stroke-width="0.7"/>
<line x1="201.22500000000002" y1="326.8" x2="201.22500000000002" y2="341.99999999999994" stroke="#666" stroke-width="0.8"/>
<line x1="199.925" y1="326.8" x2="202.52500000000003" y2="326.8" stroke="#666" stroke-width="0.8"/>
<rect x="204.40" y="295.3" width="6.35" height="77.00" fill="#111" stroke="#111" stroke-width="0.7"/>
<line x1="207.57500000000002" y1="292.5" x2="207.57500000000002" y2="298.1" stroke="#666" stroke-width="0.8"/>
<line x1="206.275" y1="292.5" x2="208.87500000000003" y2="292.5" stroke="#666" stroke-width="0.8"/>
<text x="198.5" y="382.7" font-size="7.6" font-weight="bold" text-anchor="middle" fill="#161616"  textLength="12.1" lengthAdjust="spacingAndGlyphs" stroke="#161616" stroke-width="0.38">72h</text>
<line x1="53.6" y1="372.3" x2="211" y2="372.3" stroke="#888" stroke-width="1"/>
<text transform="rotate(-90 30.3 365.7)" x="30.3" y="365.7" font-size="7.2" font-weight="bold" fill="#161616" stroke="#161616" stroke-width="0.38" textLength="105.4" lengthAdjust="spacingAndGlyphs">% of H-2K<tspan font-size="5" dy="-2.5">b</tspan><tspan dy="2.5">-SIINFEKL - positive</tspan></text>
<text x="38.7" y="365.6" font-size="7.1" font-weight="bold" text-anchor="start" fill="#161616" transform="rotate(-90 38.7 365.6)"  stroke="#161616" stroke-width="0.38">mDCs</text>
<rect x="103" y="232.8" width="5.8" height="6.1" fill="#fff" stroke="#777" stroke-width="0.9"/>
<text x="113.5" y="239.8" font-size="7.3" font-weight="bold" text-anchor="start" fill="#161616"  stroke="#161616" stroke-width="0.38">Negative Control</text>
<rect x="103" y="242.6" width="5.8" height="6.1" fill="#f2f2f2" stroke="#888" stroke-width="0.9"/>
<text x="113.5" y="250.0" font-size="7.3" font-weight="bold" text-anchor="start" fill="#161616"  stroke="#161616" stroke-width="0.38">GG pCMV-OVA-TR</text>
<rect x="103" y="252.7" width="5.8" height="6.1" fill="#777" stroke="#555" stroke-width="0.9"/>
<text x="113.5" y="258.8" font-size="7.3" font-weight="bold" text-anchor="start" fill="#161616"  stroke="#161616" stroke-width="0.38">mDCs + SIINFEKL</text>
<rect x="103" y="262.5" width="5.8" height="6.1" fill="url(#hatch)" stroke="#666" stroke-width="0.9"/>
<text x="113.5" y="267.6" font-size="7.3" font-weight="bold" text-anchor="start" fill="#161616"  stroke="#161616" stroke-width="0.38">mDCs + SIINFEKL+antiCD40 mAb</text>
<rect x="103" y="272.3" width="5.8" height="6.1" fill="#111" stroke="#111" stroke-width="0.9"/>
<text x="113.5" y="278.9" font-size="7.3" font-weight="bold" text-anchor="start" fill="#161616"  stroke="#161616" stroke-width="0.38">GG pCMV-OVA-TR+antiCD40mAb</text>
<text x="263.3" y="240.0" font-size="17" font-weight="bold" text-anchor="start" fill="#161616" stroke="#111" stroke-width="0.4">D</text>
<line x1="299.3" y1="248.0" x2="299.3" y2="371.3" stroke="#999" stroke-width="1"/>
<line x1="297.5" y1="371.3" x2="299.3" y2="371.3" stroke="#999" stroke-width="0.9"/>
<text x="294.1" y="374.1" font-size="7.0" font-weight="bold" text-anchor="end" fill="#222" stroke="#222" stroke-width="0.35" textLength="3.15" lengthAdjust="spacingAndGlyphs">0</text>
<line x1="297.5" y1="350.84000000000003" x2="299.3" y2="350.84000000000003" stroke="#999" stroke-width="0.9"/>
<text x="294.1" y="353.64000000000004" font-size="7.0" font-weight="bold" text-anchor="end" fill="#222" stroke="#222" stroke-width="0.35" textLength="6.3" lengthAdjust="spacingAndGlyphs">20</text>
<line x1="297.5" y1="330.38" x2="299.3" y2="330.38" stroke="#999" stroke-width="0.9"/>
<text x="294.1" y="333.18" font-size="7.0" font-weight="bold" text-anchor="end" fill="#222" stroke="#222" stroke-width="0.35" textLength="6.3" lengthAdjust="spacingAndGlyphs">40</text>
<line x1="297.5" y1="309.92" x2="299.3" y2="309.92" stroke="#999" stroke-width="0.9"/>
<text x="294.1" y="312.72" font-size="7.0" font-weight="bold" text-anchor="end" fill="#222" stroke="#222" stroke-width="0.35" textLength="6.3" lengthAdjust="spacingAndGlyphs">60</text>
<line x1="297.5" y1="289.46000000000004" x2="299.3" y2="289.46000000000004" stroke="#999" stroke-width="0.9"/>
<text x="294.1" y="292.26000000000005" font-size="7.0" font-weight="bold" text-anchor="end" fill="#222" stroke="#222" stroke-width="0.35" textLength="6.3" lengthAdjust="spacingAndGlyphs">80</text>
<line x1="297.5" y1="269.0" x2="299.3" y2="269.0" stroke="#999" stroke-width="0.9"/>
<text x="294.1" y="271.8" font-size="7.0" font-weight="bold" text-anchor="end" fill="#222" stroke="#222" stroke-width="0.35" textLength="9.45" lengthAdjust="spacingAndGlyphs">100</text>
<line x1="297.5" y1="248.54000000000002" x2="299.3" y2="248.54000000000002" stroke="#999" stroke-width="0.9"/>
<text x="294.1" y="251.34000000000003" font-size="7.0" font-weight="bold" text-anchor="end" fill="#222" stroke="#222" stroke-width="0.35" textLength="9.45" lengthAdjust="spacingAndGlyphs">120</text>
<rect x="299.40" y="365.6" width="6.90" height="5.70" fill="#fff" stroke="#333" stroke-width="0.7"/>
<line x1="302.84999999999997" y1="364.8" x2="302.84999999999997" y2="366.40000000000003" stroke="#666" stroke-width="0.8"/>
<line x1="301.54999999999995" y1="364.8" x2="304.15" y2="364.8" stroke="#666" stroke-width="0.8"/>
<rect x="306.30" y="351.3" width="6.90" height="20.00" fill="url(#dots)" stroke="#777" stroke-width="0.7"/>
<line x1="309.74999999999994" y1="344.8" x2="309.74999999999994" y2="357.8" stroke="#666" stroke-width="0.8"/>
<line x1="308.44999999999993" y1="344.8" x2="311.04999999999995" y2="344.8" stroke="#666" stroke-width="0.8"/>
<line x1="308.44999999999993" y1="357.8" x2="311.04999999999995" y2="357.8" stroke="#666" stroke-width="0.8"/>
<rect x="313.20" y="313.8" width="6.90" height="57.50" fill="url(#gdots)" stroke="#555" stroke-width="0.7"/>
<line x1="316.65" y1="312.3" x2="316.65" y2="315.3" stroke="#666" stroke-width="0.8"/>
<line x1="315.34999999999997" y1="312.3" x2="317.95" y2="312.3" stroke="#666" stroke-width="0.8"/>
<rect x="320.10" y="260.3" width="6.90" height="111.00" fill="url(#hatch)" stroke="#444" stroke-width="0.7"/>
<line x1="323.54999999999995" y1="257.3" x2="323.54999999999995" y2="263.3" stroke="#666" stroke-width="0.8"/>
<line x1="322.24999999999994" y1="257.3" x2="324.84999999999997" y2="257.3" stroke="#666" stroke-width="0.8"/>
<rect x="327.00" y="262.3" width="6.90" height="109.00" fill="#111" stroke="#111" stroke-width="0.7"/>
<line x1="330.45" y1="257.3" x2="330.45" y2="267.3" stroke="#666" stroke-width="0.8"/>
<line x1="329.15" y1="257.3" x2="331.75" y2="257.3" stroke="#666" stroke-width="0.8"/>
<text x="319.3" y="382.4" font-size="7.6" font-weight="bold" text-anchor="middle" fill="#161616"  textLength="12.1" lengthAdjust="spacingAndGlyphs" stroke="#161616" stroke-width="0.38">24h</text>
<rect x="368.20" y="363" width="6.90" height="8.30" fill="#fff" stroke="#333" stroke-width="0.7"/>
<line x1="371.65" y1="362.3" x2="371.65" y2="363.7" stroke="#666" stroke-width="0.8"/>
<line x1="370.34999999999997" y1="362.3" x2="372.95" y2="362.3" stroke="#666" stroke-width="0.8"/>
<rect x="375.10" y="352.9" width="6.90" height="18.40" fill="url(#dots)" stroke="#777" stroke-width="0.7"/>
<line x1="378.54999999999995" y1="350" x2="378.54999999999995" y2="355.79999999999995" stroke="#666" stroke-width="0.8"/>
<line x1="377.24999999999994" y1="350" x2="379.84999999999997" y2="350" stroke="#666" stroke-width="0.8"/>
<line x1="377.24999999999994" y1="355.79999999999995" x2="379.84999999999997" y2="355.79999999999995" stroke="#666" stroke-width="0.8"/>
<rect x="382.00" y="356.3" width="6.90" height="15.00" fill="url(#gdots)" stroke="#555" stroke-width="0.7"/>
<line x1="385.45" y1="352.9" x2="385.45" y2="359.70000000000005" stroke="#666" stroke-width="0.8"/>
<line x1="384.15" y1="352.9" x2="386.75" y2="352.9" stroke="#666" stroke-width="0.8"/>
<line x1="384.15" y1="359.70000000000005" x2="386.75" y2="359.70000000000005" stroke="#666" stroke-width="0.8"/>
<rect x="388.90" y="348.7" width="6.90" height="22.60" fill="url(#hatch)" stroke="#444" stroke-width="0.7"/>
<line x1="392.34999999999997" y1="346.7" x2="392.34999999999997" y2="350.7" stroke="#666" stroke-width="0.8"/>
<line x1="391.04999999999995" y1="346.7" x2="393.65" y2="346.7" stroke="#666" stroke-width="0.8"/>
<rect x="395.80" y="297.8" width="6.90" height="73.50" fill="#111" stroke="#111" stroke-width="0.7"/>
<line x1="399.25" y1="295" x2="399.25" y2="300.6" stroke="#666" stroke-width="0.8"/>
<line x1="397.95" y1="295" x2="400.55" y2="295" stroke="#666" stroke-width="0.8"/>
<text x="389.8" y="383.0" font-size="7.6" font-weight="bold" text-anchor="middle" fill="#333"  textLength="12.1" lengthAdjust="spacingAndGlyphs" stroke="#333" stroke-width="0.38">48h</text>
<rect x="437.10" y="361.6" width="6.90" height="9.70" fill="#fff" stroke="#333" stroke-width="0.7"/>
<line x1="440.55" y1="360.8" x2="440.55" y2="362.40000000000003" stroke="#666" stroke-width="0.8"/>
<line x1="439.25" y1="360.8" x2="441.85" y2="360.8" stroke="#666" stroke-width="0.8"/>
<rect x="444.00" y="359" width="6.90" height="12.30" fill="url(#dots)" stroke="#777" stroke-width="0.7"/>
<line x1="447.45" y1="357.8" x2="447.45" y2="360.2" stroke="#666" stroke-width="0.8"/>
<line x1="446.15" y1="357.8" x2="448.75" y2="357.8" stroke="#666" stroke-width="0.8"/>
<rect x="450.90" y="361" width="6.90" height="10.30" fill="url(#gdots)" stroke="#555" stroke-width="0.7"/>
<line x1="454.35" y1="357.7" x2="454.35" y2="364.3" stroke="#666" stroke-width="0.8"/>
<line x1="453.05" y1="357.7" x2="455.65000000000003" y2="357.7" stroke="#666" stroke-width="0.8"/>
<line x1="453.05" y1="364.3" x2="455.65000000000003" y2="364.3" stroke="#666" stroke-width="0.8"/>
<rect x="457.80" y="350.9" width="6.90" height="20.40" fill="url(#hatch)" stroke="#444" stroke-width="0.7"/>
<line x1="461.25" y1="349.9" x2="461.25" y2="351.9" stroke="#666" stroke-width="0.8"/>
<line x1="459.95" y1="349.9" x2="462.55" y2="349.9" stroke="#666" stroke-width="0.8"/>
<rect x="464.70" y="325.2" width="6.90" height="46.10" fill="#111" stroke="#111" stroke-width="0.7"/>
<line x1="468.15000000000003" y1="323.2" x2="468.15000000000003" y2="327.2" stroke="#666" stroke-width="0.8"/>
<line x1="466.85" y1="323.2" x2="469.45000000000005" y2="323.2" stroke="#666" stroke-width="0.8"/>
<text x="454.6" y="383.1" font-size="7.6" font-weight="bold" text-anchor="middle" fill="#161616"  textLength="12.1" lengthAdjust="spacingAndGlyphs" stroke="#161616" stroke-width="0.38">72h</text>
<line x1="299.3" y1="371.3" x2="472" y2="371.3" stroke="#888" stroke-width="1"/>
<text x="282.6" y="312.6" font-size="7.2" font-weight="bold" text-anchor="start" fill="#161616" transform="rotate(-90 282.6 312.6)"  stroke="#161616" stroke-width="0.38">MFI</text>
<rect x="398.4" y="237.5" width="5.4" height="4.3" fill="#fff" stroke="#666" stroke-width="0.9"/>
<text x="409" y="242.9" font-size="7.3" font-weight="bold" text-anchor="start" fill="#161616"  stroke="#161616" stroke-width="0.38">Negative Control</text>
<rect x="398.4" y="250.6" width="5.4" height="4.3" fill="#fff" stroke="#777" stroke-width="0.9"/>
<text x="409" y="255.3" font-size="7.3" font-weight="bold" text-anchor="start" fill="#161616"  stroke="#161616" stroke-width="0.38">GG pCMV-OVA-TR</text>
<rect x="398.4" y="261.3" width="5.4" height="4.3" fill="#777" stroke="#555" stroke-width="0.9"/>
<text x="409" y="265.3" font-size="7.3" font-weight="bold" text-anchor="start" fill="#161616"  stroke="#161616" stroke-width="0.38">mDCs + SIINFEKL</text>
<rect x="398.4" y="273.6" width="5.4" height="4.3" fill="url(#hatch)" stroke="#555" stroke-width="0.9"/>
<text x="409" y="277.5" font-size="7.3" font-weight="bold" text-anchor="start" fill="#161616"  stroke="#161616" stroke-width="0.38">mDCs SIINFEKL+antiCD40 mAb</text>
<rect x="398.4" y="284.4" width="5.4" height="4.3" fill="#111" stroke="#111" stroke-width="0.9"/>
<text x="409" y="287.3" font-size="7.3" font-weight="bold" text-anchor="start" fill="#161616"  stroke="#161616" stroke-width="0.38">GG pCMV-OVA-TR+anti</text>
<text x="408.8" y="296.3" font-size="7.3" font-weight="bold" text-anchor="start" fill="#161616"  stroke="#161616" stroke-width="0.38">-CD40 mAb</text>
</svg></body></html>
